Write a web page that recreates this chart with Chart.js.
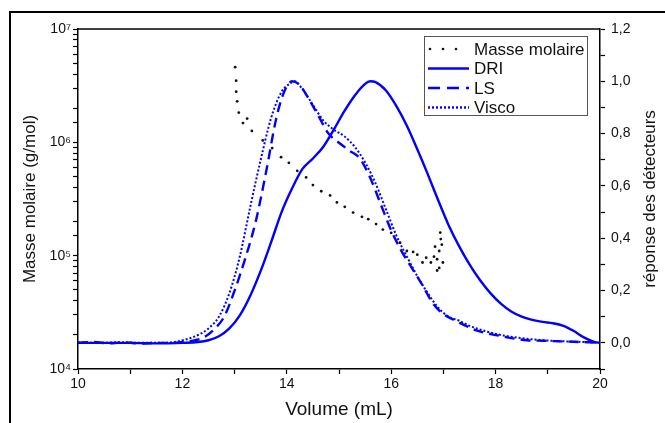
<!DOCTYPE html>
<html>
<head>
<meta charset="utf-8">
<script src="https://cdn.jsdelivr.net/npm/chart.js@4.4.0/dist/chart.umd.min.js"></script>
<style>
  html, body { margin: 0; padding: 0; background: #fff; }
  #wrap { width: 665px; height: 423px; }
</style>
</head>
<body>
<div id="wrap"><canvas id="grafico" width="665" height="423"></canvas></div>
<script>
  // Masse molaire (axe gauche, log)
  const masseVolume = [13.01, 13.03, 13.03, 13.05, 13.08, 13.16, 13.24, 13.33, 13.54, 13.72, 13.89, 14.04, 14.2, 14.37, 14.5, 14.66, 14.83, 14.96,
    15.11, 15.27, 15.44, 15.56, 15.71, 15.84, 16.0, 16.17, 16.3, 16.42, 16.5, 16.6, 16.67, 16.76, 16.82, 16.84, 16.88, 16.88, 16.92, 16.92, 16.94, 16.95, 16.97, 16.99];
  const masseMolaire = [4.6e6, 3.5e6, 2.8e6, 2.3e6, 1.83e6, 1.48e6, 1.62e6, 1.26e6, 1.04e6, 8.9e5, 7.4e5, 6.6e5, 5.6e5, 4.9e5, 4.2e5, 3.7e5, 3.4e5, 2.95e5,
    2.7e5, 2.4e5, 2.2e5, 2.1e5, 1.9e5, 1.7e5, 1.59e5, 1.3e5, 1.1e5, 1.08e5, 1.02e5, 8.7e4, 9.6e4, 8.7e4, 9.8e4, 1.2e5, 9.3e4, 7.4e4, 7.8e4, 1.1e5, 1.6e5, 1.4e5, 1.25e5, 8.7e4];

  // DRI
  const driVolume = [10, 10.5, 11, 11.5, 12, 12.3, 12.5, 12.7, 12.9, 13.1, 13.3, 13.5, 13.7, 13.9, 14.1, 14.3, 14.5, 14.7, 14.9, 15.1, 15.3, 15.5, 15.6, 15.7,
    15.9, 16.1, 16.3, 16.5, 16.7, 16.9, 17.1, 17.3, 17.5, 17.7, 17.9, 18.1, 18.3, 18.5, 18.7, 18.9, 19.1, 19.3, 19.5, 19.7, 19.9, 20];
  const driSignal = [0.0, 0.0, 0.0, -0.002, 0.0, 0.003, 0.01, 0.025, 0.055, 0.105, 0.18, 0.275, 0.385, 0.5, 0.59, 0.665, 0.705, 0.75, 0.815, 0.885, 0.945, 0.99, 1.0, 0.997,
    0.965, 0.905, 0.83, 0.74, 0.645, 0.545, 0.45, 0.37, 0.3, 0.24, 0.19, 0.15, 0.12, 0.1, 0.088, 0.08, 0.075, 0.065, 0.045, 0.02, 0.003, 0.0];

  // LS
  const lsVolume = [10, 10.3, 10.6, 10.9, 11.2, 11.5, 11.8, 12.0, 12.2, 12.4, 12.6, 12.8, 13.0, 13.2, 13.4, 13.6, 13.8, 13.95, 14.1, 14.25, 14.4, 14.6, 14.8,
    15.0, 15.2, 15.4, 15.6, 15.8, 16.0, 16.2, 16.4, 16.6, 16.8, 17.0, 17.2, 17.4, 17.6, 17.8, 18.0, 18.3, 18.6, 18.9, 19.2, 19.5, 19.8, 20];
  const lsSignal = [0.0, 0.003, -0.002, 0.002, -0.003, 0.0, 0.0, 0.003, 0.008, 0.02, 0.05, 0.1, 0.2, 0.32, 0.46, 0.65, 0.86, 0.96, 1.0, 0.985, 0.94, 0.87, 0.8,
    0.765, 0.735, 0.705, 0.63, 0.53, 0.43, 0.35, 0.285, 0.22, 0.15, 0.11, 0.088, 0.068, 0.05, 0.038, 0.03, 0.018, 0.01, 0.008, 0.006, 0.004, 0.002, 0.0];

  // Visco
  const viscoVolume = [10, 10.4, 10.8, 11.2, 11.6, 11.9, 12.1, 12.3, 12.5, 12.7, 12.9, 13.1, 13.3, 13.5, 13.7, 13.9, 14.05, 14.15, 14.3, 14.5, 14.7, 14.9,
    15.1, 15.3, 15.5, 15.7, 15.9, 16.1, 16.3, 16.5, 16.7, 16.9, 17.1, 17.3, 17.5, 17.8, 18.1, 18.5, 18.9, 19.3, 19.7, 20];
  const viscoSignal = [0.002, 0.0, 0.002, 0.0, 0.0, 0.005, 0.015, 0.03, 0.055, 0.1, 0.19, 0.33, 0.52, 0.7, 0.86, 0.96, 0.99, 1.0, 0.97, 0.91, 0.85, 0.815,
    0.79, 0.75, 0.69, 0.61, 0.51, 0.41, 0.33, 0.255, 0.19, 0.135, 0.1, 0.085, 0.065, 0.045, 0.03, 0.018, 0.01, 0.006, 0.003, 0.0];

  const titreX = 'Volume (mL)';
  const titreGauche = 'Masse molaire (g/mol)';
  const titreDroite = 'réponse des détecteurs';
  const exposants = { 4: '⁴', 5: '⁵', 6: '⁶', 7: '⁷' };

  const bleu = '#0000ff';
  const police = '"Liberation Sans", Arial, sans-serif';
  Chart.defaults.font.family = police;
  Chart.defaults.color = '#111';

  const paires = (xs, ys) => xs.map((x, i) => ({ x: x, y: ys[i] }));

  const legende = [
    { label: 'Masse molaire', type: 'points' },
    { label: 'DRI', dash: [] },
    { label: 'LS', dash: [12, 7] },
    { label: 'Visco', dash: [2, 2] }
  ];

  const cadrePlugin = {
    id: 'cadre',
    beforeDraw(chart) {
      const c = chart.ctx;
      c.save();
      c.fillStyle = '#fff';
      c.fillRect(0, 0, chart.width, chart.height);
      c.strokeStyle = '#000';
      c.lineWidth = 2;
      c.beginPath();
      c.moveTo(10, chart.height);
      c.lineTo(10, 12);
      c.lineTo(chart.width, 12);
      c.stroke();
      c.restore();
    },
    afterDraw(chart) {
      const c = chart.ctx;
      const a = chart.chartArea;
      c.save();
      c.strokeStyle = '#000';
      c.lineWidth = 1.5;
      c.beginPath();
      c.moveTo(a.left, a.top);
      c.lineTo(a.right, a.top);
      c.stroke();

      // titre de droite
      c.save();
      c.translate(650, (a.top + a.bottom) / 2);
      c.rotate(-Math.PI / 2);
      c.font = '17px ' + police;
      c.fillStyle = '#111';
      c.textAlign = 'center';
      c.textBaseline = 'middle';
      c.fillText(titreDroite, 0, 0);
      c.restore();

      // légende
      const bx = a.right - 176, by = a.top + 7, bw = 163, bh = 79;
      c.strokeStyle = '#555';
      c.lineWidth = 1;
      c.strokeRect(bx + 0.5, by + 0.5, bw, bh);
      c.font = '17px ' + police;
      c.textAlign = 'left';
      c.textBaseline = 'middle';
      legende.forEach((item, i) => {
        const y = by + 13 + i * 19.5;
        if (item.type === 'points') {
          c.fillStyle = '#111';
          [6, 19, 32].forEach(dx => {
            c.beginPath();
            c.arc(bx + dx, y, 1.3, 0, Math.PI * 2);
            c.fill();
          });
        } else {
          c.strokeStyle = bleu;
          c.lineWidth = 2.4;
          c.setLineDash(item.dash);
          c.beginPath();
          c.moveTo(bx + 4, y);
          c.lineTo(bx + 45, y);
          c.stroke();
          c.setLineDash([]);
        }
        c.fillStyle = '#111';
        c.fillText(item.label, bx + 50, y + 1);
      });
      c.restore();
    }
  };

  const ctx = document.getElementById('grafico').getContext('2d');
  const chart = new Chart(ctx, {
    type: 'line',
    data: {
      datasets: [
        {
          label: 'Masse molaire',
          data: paires(masseVolume, masseMolaire),
          yAxisID: 'y',
          showLine: false,
          pointRadius: 1.4,
          pointBackgroundColor: '#111',
          pointBorderWidth: 0,
          borderColor: '#111'
        },
        {
          label: 'DRI',
          data: paires(driVolume, driSignal),
          yAxisID: 'y2',
          borderColor: bleu,
          borderWidth: 2.4,
          pointRadius: 0,
          cubicInterpolationMode: 'monotone'
        },
        {
          label: 'LS',
          data: paires(lsVolume, lsSignal),
          yAxisID: 'y2',
          borderColor: bleu,
          borderWidth: 2.4,
          borderDash: [10, 6],
          pointRadius: 0,
          cubicInterpolationMode: 'monotone'
        },
        {
          label: 'Visco',
          data: paires(viscoVolume, viscoSignal),
          yAxisID: 'y2',
          borderColor: bleu,
          borderWidth: 2,
          borderDash: [2, 2],
          pointRadius: 0,
          cubicInterpolationMode: 'monotone'
        }
      ]
    },
    options: {
      responsive: false,
      animation: false,
      layout: { padding: { top: 29, left: 0, right: 0, bottom: 0 } },
      plugins: {
        legend: { display: false },
        tooltip: { enabled: false }
      },
      scales: {
        x: {
          type: 'linear',
          position: 'bottom',
          min: 10,
          max: 20,
          ticks: {
            stepSize: 1,
            autoSkip: false,
            maxRotation: 0,
            padding: 2,
            font: { size: 14 },
            callback: v => (v % 2 === 0 ? v : '')
          },
          grid: { drawOnChartArea: false, tickLength: 5, color: '#000', tickWidth: 1.2 },
          border: { color: '#000', width: 1.5 },
          title: { display: true, text: titreX, font: { size: 19 }, padding: { top: 0, bottom: 2 } },
          afterFit(s) { s.height = 54; }
        },
        y: {
          type: 'logarithmic',
          position: 'left',
          min: 1e4,
          max: 1e7,
          ticks: {
            autoSkip: false,
            padding: 2,
            font: { size: 14 },
            callback: v => {
              const e = Math.log10(v);
              const r = Math.round(e);
              return Math.abs(e - r) < 1e-9 ? '10' + exposants[r] : '';
            }
          },
          grid: { drawOnChartArea: false, tickLength: 5, color: '#000', tickWidth: 1.2 },
          border: { color: '#000', width: 1.5 },
          title: { display: true, text: titreGauche, font: { size: 17 }, padding: { top: 20, bottom: 0 } },
          afterFit(s) { s.width = 78; }
        },
        y2: {
          type: 'linear',
          position: 'right',
          min: -0.1,
          max: 1.2,
          ticks: {
            stepSize: 0.1,
            autoSkip: false,
            padding: 6,
            font: { size: 14 },
            callback: v => {
              const n = Math.round(v * 10);
              return (n >= 0 && n % 2 === 0) ? (n / 10).toFixed(1).replace('.', ',') : '';
            }
          },
          grid: { drawOnChartArea: false, tickLength: 5, color: '#000', tickWidth: 1.2 },
          border: { color: '#000', width: 1.5 },
          afterFit(s) { s.width = 65; }
        }
      }
    },
    plugins: [cadrePlugin]
  });
</script>
</body>
</html>
